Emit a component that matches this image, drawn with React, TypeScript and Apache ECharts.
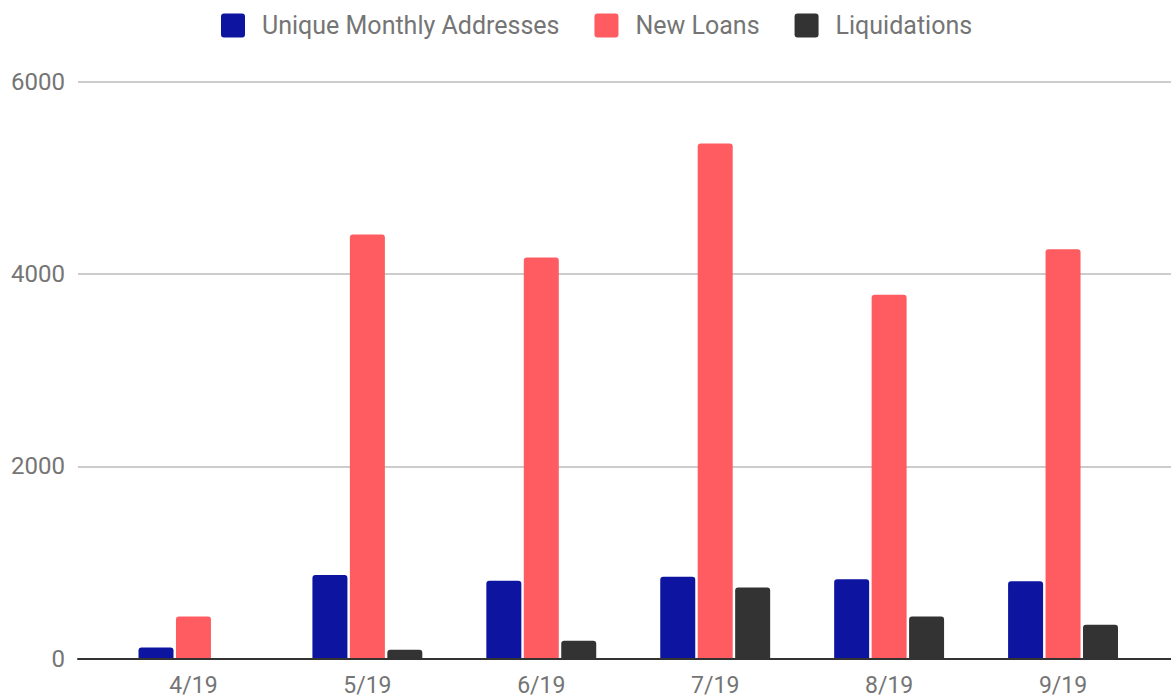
import React, { useEffect, useRef } from "react";
import * as echarts from "echarts";

const categories = ["4/19", "5/19", "6/19", "7/19", "8/19", "9/19"];
const uniqueAddresses = [114, 870, 808, 850, 826, 805];
const newLoans = [437, 4413, 4174, 5359, 3785, 4260];
const liquidations = [0, 90, 184, 738, 437, 350];
const yTicks = [0, 2000, 4000, 6000];

const FONT = "Roboto, 'Noto Sans', sans-serif";
const GRAY = "#757575";

export default function App() {
  const ref = useRef<HTMLDivElement>(null);
  useEffect(() => {
    if (!ref.current) return;
    const chart = echarts.init(ref.current, null, { renderer: "svg" });
    const yMax = yTicks[yTicks.length - 1];
    const yInt = yTicks[1] - yTicks[0];
    const barStyle = (color: string) => ({
      color,
      borderRadius: [3, 3, 0, 0],
    });
    chart.setOption({
      animation: false,
      backgroundColor: "#ffffff",
      textStyle: { fontFamily: FONT },
      legend: {
        top: 8,
        left: 216,
        itemWidth: 24,
        itemHeight: 24,
        itemGap: 35,
        icon: "path://M3,0H21Q24,0 24,3V21Q24,24 21,24H3Q0,24 0,21V3Q0,0 3,0Z",
        textStyle: { color: GRAY, fontSize: 25, fontFamily: FONT, padding: [0, 0, 0, 12] },
        data: ["Unique Monthly Addresses", "New Loans", "Liquidations"],
      },
      grid: [
        { left: 78, right: 0, top: 82, bottom: 41.5 },
        { left: 106.5, right: 21, top: 82, bottom: 41.5 },
      ],
      xAxis: [
        {
          gridIndex: 0,
          type: "category",
          data: categories,
          axisLine: { show: true, lineStyle: { color: "#333333", width: 2 } },
          axisTick: { show: false },
          axisLabel: { show: false },
          z: 5,
        },
        {
          gridIndex: 1,
          type: "category",
          data: categories,
          axisLine: { show: false },
          axisTick: { show: false },
          axisLabel: { color: GRAY, fontSize: 23, fontFamily: FONT, margin: 15 },
        },
      ],
      yAxis: [
        {
          gridIndex: 0,
          type: "value",
          min: 0,
          max: yMax,
          interval: yInt,
          axisLine: { show: false },
          axisTick: { show: false },
          axisLabel: {
            color: GRAY,
            fontSize: 24,
            fontFamily: FONT,
            margin: 13,
            formatter: (v: number) => String(v),
          },
          splitLine: { show: true, lineStyle: { color: "#cccccc", width: 2 } },
        },
        {
          gridIndex: 1,
          type: "value",
          min: 0,
          max: yMax,
          interval: yInt,
          show: false,
          splitLine: { show: false },
        },
      ],
      series: [
        {
          name: "Unique Monthly Addresses",
          type: "bar",
          xAxisIndex: 1,
          yAxisIndex: 1,
          data: uniqueAddresses,
          barWidth: 35,
          barGap: "7%",
          itemStyle: barStyle("#0c14a0"),
        },
        {
          name: "New Loans",
          type: "bar",
          xAxisIndex: 1,
          yAxisIndex: 1,
          data: newLoans,
          barWidth: 35,
          barGap: "7%",
          itemStyle: barStyle("#ff5c62"),
        },
        {
          name: "Liquidations",
          type: "bar",
          xAxisIndex: 1,
          yAxisIndex: 1,
          data: liquidations,
          barWidth: 35,
          barGap: "7%",
          itemStyle: barStyle("#333333"),
        },
      ],
    });
    return () => chart.dispose();
  }, []);
  return (
    <div
      ref={ref}
      style={{ position: "fixed", left: 0, top: 0, width: 1171, height: 700, background: "#fff" }}
    />
  );
}
